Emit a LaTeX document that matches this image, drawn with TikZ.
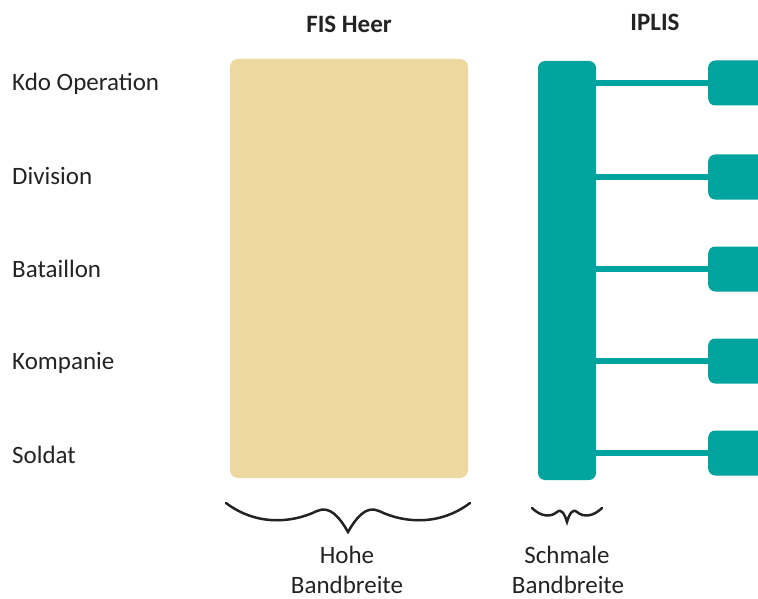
\documentclass[tikz,border=0pt]{standalone}
\usepackage{fontspec}
\setmainfont{Carlito}
\definecolor{beige}{RGB}{237,216,160}
\definecolor{tealc}{RGB}{0,164,158}
\definecolor{txt}{RGB}{35,35,35}
\begin{document}
\begin{tikzpicture}[x=1pt,y=-1pt,
  lbl/.style={anchor=base west,inner sep=0pt,text=txt,font=\fontsize{25}{31}\selectfont},
  ttl/.style={anchor=base,inner sep=0pt,text=txt,font=\fontsize{25}{31}\selectfont\bfseries},
  bot/.style={anchor=base,inner sep=0pt,text=txt,align=center,font=\fontsize{25}{31}\selectfont},
  tbox/.style={fill=tealc,rounded corners=7pt,inner sep=0pt},
  conn/.style={draw=tealc,line width=6pt},
  brace/.style={draw=txt,line width=2.5pt,line cap=round,line join=miter}]
\useasboundingbox (0,0) rectangle (758,599);
\clip (0,0) rectangle (758,599);
% titles
\node[ttl] (t1) at (349,33) {FIS Heer};
\node[ttl] (t2) at (655,31) {IPLIS};
% left labels
\node[lbl] (l1) at (12,91) {Kdo Operation};
\node[lbl] (l2) at (12,185) {Division};
\node[lbl] (l3) at (12,277) {Bataillon};
\node[lbl] (l4) at (12,369) {Kompanie};
\node[lbl] (l5) at (12,463) {Soldat};
% FIS Heer block
\fill[beige,rounded corners=8pt] (230,59) rectangle (468,478);
\node[inner sep=0pt,minimum width=238pt,minimum height=419pt] (fis) at (349,268.5) {};
% IPLIS bar
\node[tbox,minimum width=58pt,minimum height=419pt] (bar) at (567,270.5) {};
\node[tbox,minimum width=70pt,minimum height=45pt,anchor=west] (b1) at (708,83) {};
\node[tbox,minimum width=70pt,minimum height=45pt,anchor=west] (b2) at (708,177) {};
\node[tbox,minimum width=70pt,minimum height=45pt,anchor=west] (b3) at (708,269) {};
\node[tbox,minimum width=70pt,minimum height=45pt,anchor=west] (b4) at (708,361) {};
\node[tbox,minimum width=70pt,minimum height=45pt,anchor=west] (b5) at (708,453) {};
\foreach \b in {b1,b2,b3,b4,b5}{
  \draw[conn] ([xshift=-2pt]bar.east |- \b.west) -- ([xshift=2pt]\b.west);
}
% braces
\draw[brace] (226,503) .. controls (255,525) and (290,524) .. (317,511)
  .. controls (330,505) and (340,518) .. (348,532)
  .. controls (356,518) and (366,505) .. (379,511)
  .. controls (406,524) and (441,525) .. (470,503);
\draw[brace] (532,508) .. controls (540,516) and (550,518) .. (557,512)
  .. controls (562,508) and (565,515) .. (567,522)
  .. controls (569,515) and (572,508) .. (577,512)
  .. controls (584,518) and (594,516) .. (602,508);
% bottom labels
\node[bot] (h1) at (347,563) {Hohe};
\node[bot] (h2) at (347,593) {Bandbreite};
\node[bot] (s1) at (567,563) {Schmale};
\node[bot] (s2) at (568,593) {Bandbreite};
\end{tikzpicture}
\end{document}
